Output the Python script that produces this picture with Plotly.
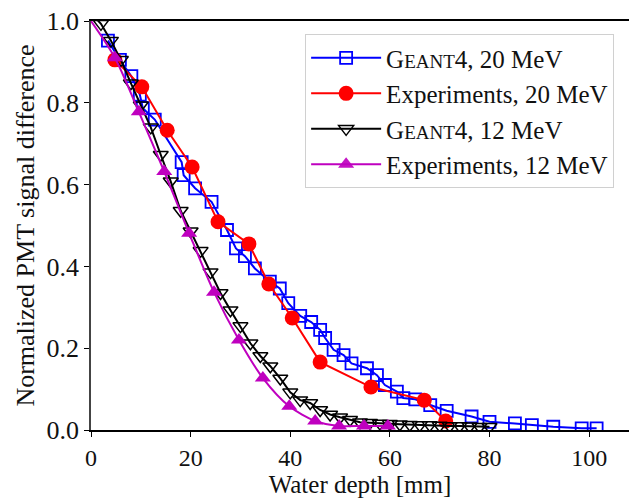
import plotly.graph_objects as go

# Geant4, 20 MeV
g20_x = [3.4, 5.8, 8.1, 9.8, 10.4, 12.8, 18.2, 18.6, 20.9, 24.2, 27.3, 29.1, 30.9, 32.9, 35.9, 37.9,
         39.6, 42.0, 44.2, 46.0, 47.0, 48.7, 50.7, 52.3, 55.4, 57.4, 59.0, 61.4, 62.7, 65.1, 68.1,
         71.4, 76.4, 80.0, 85.1, 88.5, 92.8, 98.5, 101.5]
g20_y = [0.952, 0.905, 0.865, 0.820, 0.787, 0.759, 0.655, 0.623, 0.591, 0.558, 0.489, 0.444, 0.425,
         0.395, 0.363, 0.346, 0.310, 0.279, 0.264, 0.245, 0.225, 0.196, 0.183, 0.163, 0.151, 0.134,
         0.110, 0.094, 0.078, 0.075, 0.061, 0.047, 0.033, 0.020, 0.016, 0.012, 0.008, 0.004, 0.004]

# Experiments, 20 MeV
e20_x = [4.8, 10.2, 15.3, 20.3, 25.5, 31.7, 35.7, 40.4, 46.0, 56.2, 66.9, 71.2]
e20_y = [0.905, 0.839, 0.733, 0.643, 0.509, 0.455, 0.357, 0.274, 0.166, 0.105, 0.073, 0.022]

# Geant4, 12 MeV
g12_x = [0, 2, 4, 6, 8, 10, 12, 14, 16, 18, 20, 22, 24, 26, 28, 30, 32, 34, 36, 38, 40, 42, 44,
         46, 48, 50, 52, 54, 56, 58, 60, 62, 64, 66, 68, 70, 72, 74, 76, 78, 80]
g12_y = [1.02, 0.993, 0.952, 0.905, 0.848, 0.794, 0.740, 0.673, 0.608, 0.536, 0.486, 0.438, 0.386,
         0.335, 0.293, 0.254, 0.212, 0.181, 0.156, 0.126, 0.092, 0.073, 0.066, 0.049, 0.038, 0.031,
         0.025, 0.019, 0.018, 0.016, 0.015, 0.014, 0.013, 0.012, 0.012, 0.011, 0.010, 0.010, 0.009,
         0.008, 0.008]

# Experiments, 12 MeV
e12_x = [0, 4.8, 9.6, 14.7, 19.7, 24.7, 29.7, 34.5, 39.8, 45.0, 49.8, 54.8, 59.6]
e12_y = [1.0, 0.910, 0.778, 0.632, 0.481, 0.337, 0.220, 0.127, 0.058, 0.022, 0.010, 0.010, 0.010]

x_ticks = [0, 20, 40, 60, 80, 100]
y_ticks = [0.0, 0.2, 0.4, 0.6, 0.8, 1.0]

FONT = "Liberation Serif"
TXT = "#111"
small = "<span style='font-size:19px'>EANT</span>"

fig = go.Figure()
fig.add_trace(go.Scatter(
    x=g20_x, y=g20_y, mode="lines+markers", name="G" + small + "4, 20 MeV",
    line=dict(color="#0000ff", width=2),
    marker=dict(symbol="square-open", size=12, color="#0000ff", line=dict(width=1.8, color="#0000ff"))))
fig.add_trace(go.Scatter(
    x=e20_x, y=e20_y, mode="lines+markers", name="Experiments, 20 MeV",
    line=dict(color="#ff0000", width=2),
    marker=dict(symbol="circle", size=15, color="#ff0000")))
fig.add_trace(go.Scatter(
    x=g12_x, y=g12_y, mode="lines+markers", name="G" + small + "4, 12 MeV",
    line=dict(color="#000000", width=2),
    marker=dict(symbol="triangle-down-open", size=13, color="#000000", line=dict(width=1.5, color="#000000"))))
fig.add_trace(go.Scatter(
    x=e12_x, y=e12_y, mode="lines+markers", name="Experiments, 12 MeV",
    line=dict(color="#bf00bf", width=2, shape="spline", smoothing=0.8),
    marker=dict(symbol="triangle-up", size=14, color="#bf00bf",
                opacity=[0] + [1] * (len(e12_x) - 1))))

fig.update_layout(
    width=629, height=498,
    margin=dict(l=91, r=0, t=21, b=68),
    paper_bgcolor="white", plot_bgcolor="white",
    font=dict(family=FONT, size=25, color=TXT),
    showlegend=True,
    legend=dict(x=0.398, y=0.968, xanchor="left", yanchor="top",
                bgcolor="rgba(255,255,255,0.9)", bordercolor="#d0d0d0", borderwidth=1,
                font=dict(family=FONT, size=25, color=TXT), tracegroupgap=0,
                itemwidth=70),
)
fig.update_xaxes(
    range=[0, 108], tickvals=x_ticks, ticktext=[str(v) for v in x_ticks],
    showgrid=False, zeroline=False, showline=True, linecolor="black", linewidth=1.5, mirror=True,
    ticks="outside", ticklen=5, tickcolor="black", tickwidth=1,
    tickfont=dict(family=FONT, size=24, color=TXT),
    title=dict(text="Water depth [mm]", font=dict(family=FONT, size=25, color=TXT), standoff=8),
)
fig.update_yaxes(
    range=[0, 1], tickvals=y_ticks, ticktext=["%.1f" % v for v in y_ticks],
    showgrid=False, zeroline=False, showline=True, linecolor="#444", linewidth=1.5,
    ticks="outside", ticklen=5, tickcolor="black", tickwidth=1,
    tickfont=dict(family=FONT, size=26, color=TXT),
    title=dict(text="Normalized PMT signal difference", font=dict(family=FONT, size=26, color=TXT), standoff=4),
)

fig.write_html("out.html")
